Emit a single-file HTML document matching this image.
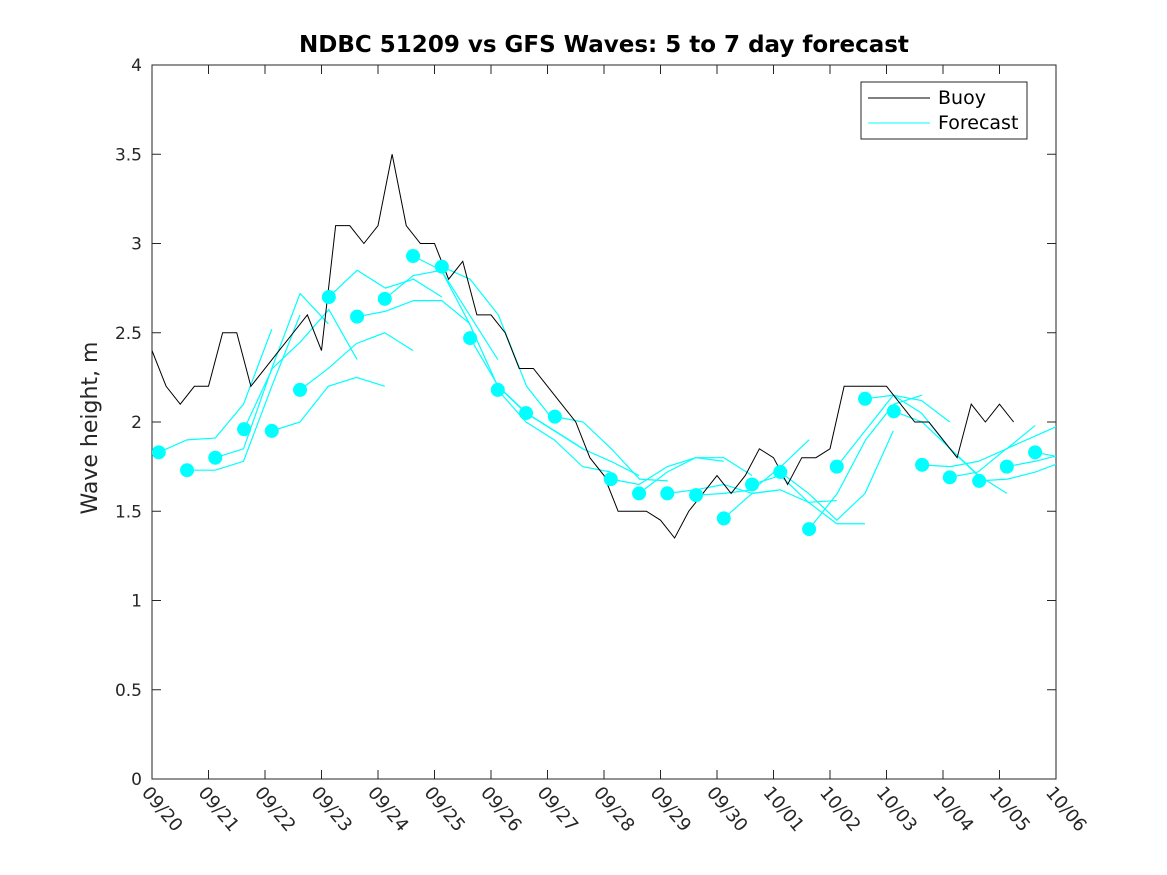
<!DOCTYPE html>
<html><head><meta charset="utf-8"><style>
body{margin:0;background:#fff;}
svg{display:block;font-family:"DejaVu Sans","Liberation Sans",sans-serif;}
</style></head><body>
<svg id="chart" width="1167" height="875" xmlns="http://www.w3.org/2000/svg">
<defs><clipPath id="plotclip"><rect x="152" y="65" width="904" height="714"/></clipPath></defs>
<rect width="1167" height="875" fill="#fff"/>
<text x="604" y="52" text-anchor="middle" font-size="23" font-weight="bold" fill="#000">NDBC 51209 vs GFS Waves: 5 to 7 day forecast</text>
<text transform="translate(97,428) rotate(-90)" text-anchor="middle" font-size="22" fill="#262626">Wave height, m</text>
<g id="axes"></g>
<g id="series" clip-path="url(#plotclip)"></g>
<g>
<rect x="861" y="82" width="166" height="57" fill="#fff" stroke="#262626" stroke-width="1"/>
<line x1="868" y1="98" x2="930" y2="98" stroke="#000" stroke-width="1"/>
<text x="938" y="104" font-size="19" fill="#000">Buoy</text>
<line x1="868" y1="123" x2="930" y2="123" stroke="#00ffff" stroke-width="1"/>
<text x="938" y="129" font-size="19" fill="#000">Forecast</text>
</g>
</svg>
<script>
const xTickLabels=["09/20","09/21","09/22","09/23","09/24","09/25","09/26","09/27","09/28","09/29","09/30","10/01","10/02","10/03","10/04","10/05","10/06"];
const yTickLabels=["0","0.5","1","1.5","2","2.5","3","3.5","4"];
const yTicks=[0,0.5,1,1.5,2,2.5,3,3.5,4];
const buoyStep=0.25;
const buoyValues=[2.4,2.2,2.1,2.2,2.2,2.5,2.5,2.2,2.3,2.4,2.5,2.6,2.4,3.1,3.1,3.0,3.1,3.5,3.1,3.0,3.0,2.8,2.9,2.6,2.6,2.5,2.3,2.3,2.2,2.1,2.0,1.8,1.7,1.5,1.5,1.5,1.45,1.35,1.5,1.6,1.7,1.6,1.7,1.85,1.8,1.65,1.8,1.8,1.85,2.2,2.2,2.2,2.2,2.1,2.0,2.0,1.9,1.8,2.1,2.0,2.1,2.0];
const markerDays=[0.12,0.62,1.12,1.63,2.12,2.62,3.13,3.63,4.12,4.62,5.13,5.63,6.12,6.62,7.13,8.12,8.62,9.12,9.63,10.12,10.62,11.12,11.63,12.12,12.62,13.13,13.63,14.12,14.64,15.13,15.63];
const markerValues=[1.83,1.73,1.80,1.96,1.95,2.18,2.70,2.59,2.69,2.93,2.87,2.47,2.18,2.05,2.03,1.68,1.60,1.60,1.59,1.46,1.65,1.72,1.40,1.75,2.13,2.06,1.76,1.69,1.67,1.75,1.83];
const forecastStep=0.5;
const forecastLines=[
[1.83,1.9,1.91,2.1,2.52],[1.73,1.73,1.78,2.2,2.6],[1.80,1.85,2.3,2.72,2.55],[1.96,2.3,2.45,2.63,2.35],
[1.95,2.0,2.2,2.25,2.2],[2.18,2.3,2.44,2.5,2.4],[2.70,2.85,2.75,2.8,2.7],[2.59,2.62,2.68,2.68,2.55],
[2.69,2.82,2.85,2.6,2.35],[2.93,2.85,2.55,2.2,2.05],[2.87,2.8,2.6,2.2,2.0],[2.47,2.2,2.05,1.95,1.85],
[2.18,2.0,1.9,1.75,1.72],[2.05,1.95,1.85,1.78,1.7],[2.03,2.0,1.85,1.68,1.67],[1.68,1.65,1.75,1.8,1.78],
[1.60,1.72,1.80,1.80,1.7],[1.60,1.62,1.65,1.6,1.62],[1.59,1.6,1.62,1.75,1.9],[1.46,1.60,1.62,1.55,1.56],
[1.65,1.70,1.55,1.43,1.43],[1.72,1.60,1.45,1.60,1.95],[1.40,1.6,1.9,2.1,2.15],[1.75,1.95,2.15,2.12,2.0],
[2.13,2.15,2.05,1.85,1.7],[2.06,2.0,1.85,1.7,1.6],[1.76,1.75,1.78,1.85,1.98],[1.69,1.72,1.85,1.92,1.99],
[1.67,1.68,1.72,1.78,1.8],[1.75,1.78,1.82,1.8,1.8],[1.83,1.80,1.8,1.8,1.8]];
const X0=152,X1=1056,Y0=779,Y1=65,DAYS=16,YMAX=4;
const xs=d=>X0+(X1-X0)*d/DAYS;
const ys=v=>Y0-(Y0-Y1)*v/YMAX;
const NS="http://www.w3.org/2000/svg";
function mk(tag,parent,attrs){const e=document.createElementNS(NS,tag);for(const k in attrs)e.setAttribute(k,attrs[k]);parent.appendChild(e);return e;}
const axes=document.getElementById('axes');
const series=document.getElementById('series');
const frame=mk('rect',axes,{x:X0,y:Y1,width:X1-X0,height:Y0-Y1,fill:'none',stroke:'#262626','stroke-width':1});


yTicks.forEach((v,i)=>{
  const y=ys(v);
  mk('line',axes,{x1:X0,y1:y,x2:X0+9,y2:y,stroke:'#262626'});
  mk('line',axes,{x1:X1,y1:y,x2:X1-9,y2:y,stroke:'#262626'});
  const t=mk('text',axes,{x:X0-10,y:y+6,'text-anchor':'end','font-size':17,fill:'#262626'});
  t.textContent=yTickLabels[i];
  
  
});
xTickLabels.forEach((lab,i)=>{
  const x=xs(i);
  mk('line',axes,{x1:x,y1:Y0,x2:x,y2:Y0-9,stroke:'#262626'});
  mk('line',axes,{x1:x,y1:Y1,x2:x,y2:Y1+9,stroke:'#262626'});
  const t=mk('text',axes,{transform:`translate(${x-11},${Y0+14}) rotate(50)`,'font-size':18,fill:'#262626'});
  t.textContent=lab;
  
  
});
forecastLines.forEach((vals,i)=>{
  const pts=vals.map((v,j)=>xs(markerDays[i]+j*forecastStep)+','+ys(v)).join(' ');
  const p=mk('polyline',series,{points:pts,fill:'none',stroke:'#00ffff','stroke-width':1.2});
  
  
});
const bpts=buoyValues.map((v,i)=>xs(i*buoyStep)+','+ys(v));
const bl=mk('polyline',series,{points:bpts.join(' '),fill:'none',stroke:'#000','stroke-width':1});


markerDays.forEach((d,i)=>{
  const c=mk('circle',series,{cx:xs(d),cy:ys(markerValues[i]),r:7,fill:'#00ffff'});
  
  
});
</script>
</body></html>
